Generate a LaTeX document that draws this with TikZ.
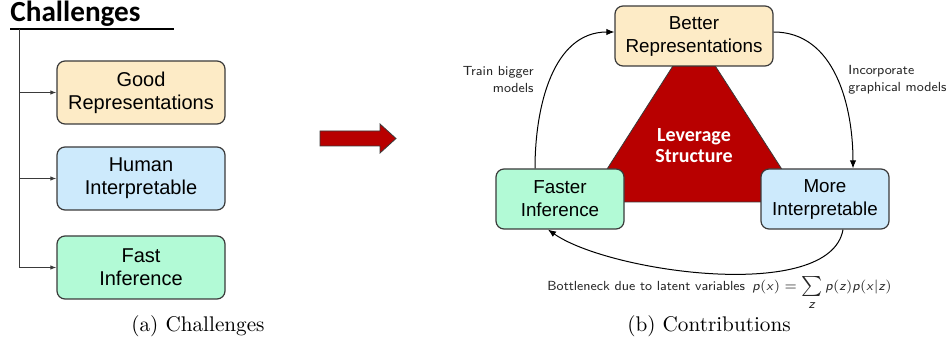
\documentclass[tikz,border=0pt]{standalone}
\usepackage{fontspec}
\newfontfamily\carlito{Carlito}
\newfontfamily\arialf{Liberation Sans}
\usetikzlibrary{arrows.meta,calc}
\definecolor{boxorange}{HTML}{FDEBC6}
\definecolor{boxblue}{HTML}{CDEAFC}
\definecolor{boxgreen}{HTML}{B2FAD6}
\definecolor{darkred}{HTML}{B80000}
\definecolor{edgegray}{HTML}{3A3A3A}
\newcommand\sv[1]{\textsf{\textit{#1}}}
\tikzset{
  lbox/.style={draw=edgegray, line width=0.6pt, rounded corners=4pt, align=center,
    minimum width=84pt, minimum height=31.5pt, inner sep=0pt,
    font=\arialf\fontsize{10}{11.5}\selectfont},
  rbox/.style={draw=edgegray, line width=0.6pt, rounded corners=4pt, align=center,
    minimum height=30pt, inner sep=0pt,
    font=\arialf\fontsize{9.4}{11.5}\selectfont},
  treeline/.style={draw=edgegray, line width=0.5pt},
  treearrow/.style={treeline, -{Latex[length=3pt,width=2.2pt]}},
  carrow/.style={draw=black, line width=0.5pt, -{Latex[length=4pt,width=3.2pt]}},
  lab/.style={font=\sffamily\fontsize{6.6}{8.5}\selectfont, text=black!85, inner sep=0pt},
  capt/.style={font=\fontsize{10.6}{12}\selectfont, inner sep=0pt}
}
\begin{document}
\begin{tikzpicture}[x=0.5pt, y=-0.5pt]
\useasboundingbox (0,0) rectangle (949,352);

% ---- left part: Challenges ----
\node[anchor=base west, inner sep=0pt, font=\carlito\bfseries\fontsize{14.6}{16}\selectfont] (title) at (10,22) {Challenges};
\coordinate (ul0) at (10,29);
\coordinate (ul1) at (174,29);
\draw[line width=0.6pt] (ul0) -- (ul1);
\coordinate (trunk) at (19,29);

\node[lbox, fill=boxorange] (b1) at (141,92.5) {Good\\Representations};
\node[lbox, fill=boxblue]   (b2) at (141,178.5) {Human\\Interpretable};
\node[lbox, fill=boxgreen]  (b3) at (141,267.5) {Fast\\Inference};

\draw[treearrow] (trunk) |- (b3.west);
\draw[treearrow] (trunk |- b1.west) -- (b1.west);
\draw[treearrow] (trunk |- b2.west) -- (b2.west);

% ---- big red arrow ----
\draw[fill=darkred, draw=edgegray, line width=0.4pt]
  (320,131) -- (380,131) -- (380,124) -- (396,138.5) -- (380,153) -- (380,146) -- (320,146) -- cycle;

% ---- right part: Contributions ----
\draw[fill=darkred, draw=edgegray, line width=0.4pt] (694,33) -- (586,202) -- (803,202) -- cycle;
\node[align=center, text=white, font=\carlito\bfseries\fontsize{10}{10.5}\selectfont] (lev) at (694,146) {Leverage\\Structure};

\node[rbox, fill=boxorange, minimum width=79pt] (br) at (694,36) {Better\\Representations};
\node[rbox, fill=boxgreen, minimum width=64pt] (fi) at (560,199) {Faster\\Inference};
\node[rbox, fill=boxblue, minimum width=64pt] (mi) at (825,199) {More\\Interpretable};

\draw[carrow] ($(fi.north)+(-25,0)$) to[out=90,in=180] ($(br.west)+(0,-4)$);
\draw[carrow] ($(br.east)+(0,-4)$) to[out=0,in=90] ($(mi.north)+(28,0)$);
\draw[carrow] ($(mi.south)+(18,0)$) to[out=-100,in=-35,looseness=0.65] ($(fi.south)+(-12,0)$);

\node[lab, anchor=east, align=right] (tl) at (534,79.5) {Train bigger\\models};
\node[lab, anchor=west, align=left] (tr) at (848,79.5) {Incorporate\\graphical models};
\node[lab, anchor=base west] (bn) at (547,290.5) {Bottleneck due to latent variables};
\node[lab, anchor=base west] (fm) at (752,290.5) {$\sv{p}(\sv{x}) = \sum\limits_{\sv{z}} \sv{p}(\sv{z})\sv{p}(\sv{x}|\sv{z})$};

% ---- captions ----
\node[capt] (ca) at (198,326) {(a) Challenges};
\node[capt] (cb) at (709,326) {(b) Contributions};
\end{tikzpicture}
\end{document}
